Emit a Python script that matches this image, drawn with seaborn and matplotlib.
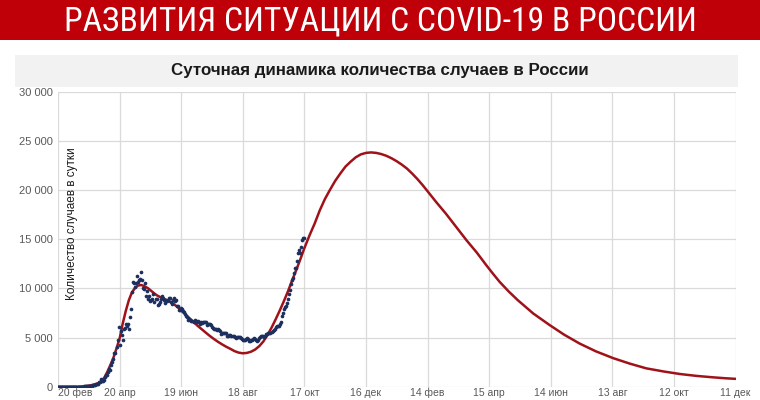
import matplotlib
matplotlib.use("Agg")
import matplotlib.pyplot as plt
import seaborn as sns
import pandas as pd
from matplotlib.patches import Rectangle
from matplotlib.ticker import FuncFormatter, FixedLocator
from matplotlib import font_manager

# ---------------- data ----------------
title_text = "РАЗВИТИЯ СИТУАЦИИ С COVID-19 В РОССИИ"
subtitle_text = "Суточная динамика количества случаев в России"
y_label = "Количество случаев в сутки"

# day index 0 = 20 фев 2020, one tick every 60 days
x_tick_days = [0, 60, 120, 180, 240, 300, 360, 420, 480, 540, 600, 660]
x_tick_labels = ["20 фев", "20 апр", "19 июн", "18 авг", "17 окт", "16 дек",
                 "14 фев", "15 апр", "14 июн", "13 авг", "12 окт", "11 дек"]
y_ticks = [0, 5000, 10000, 15000, 20000, 25000, 30000]

# observed daily cases (dots), one per day from 20 фев
cases_feb = [0, 0, 0, 0, 0, 0, 0, 0, 0, 0]
cases_mar = [0, 1, 0, 0, 1, 6, 1, 2, 0, 3, 8, 6, 11, 14, 4, 30, 21, 33, 52, 54,
             53, 61, 71, 57, 163, 182, 196, 228, 270, 302, 501]
cases_apr = [440, 771, 601, 582, 658, 954, 1154, 1175, 1459, 1786, 1667, 2186,
             2558, 2774, 3388, 3448, 4070, 4785, 6060, 4268, 5642, 5236, 4774,
             5849, 5966, 6361, 6198, 6411, 5841, 7099]
cases_may = [7933, 9623, 10633, 10581, 10102, 10559, 11231, 10699, 10817, 11012,
             11656, 10899, 10028, 9974, 10598, 9200, 9709, 8926, 9263, 8764, 8849,
             8894, 9434, 8599, 8946, 8915, 8338, 8371, 8572, 8952, 9268]
cases_jun = [9035, 8863, 8536, 8831, 8726, 8855, 8984, 8985, 8595, 8404, 8779,
             8987, 8706, 8835, 8246, 8248, 7843, 7790, 7972, 7889, 7728, 7600,
             7425, 7176, 7113, 6800, 6852, 6791, 6719, 6693]
cases_jul = [6556, 6760, 6718, 6632, 6736, 6611, 6368, 6562, 6509, 6635, 6611,
             6615, 6537, 6248, 6422, 6428, 6406, 6234, 6109, 5940, 5842, 5862,
             5848, 5811, 5871, 5765, 5635, 5395, 5475, 5509, 5482]
cases_aug = [5462, 5427, 5159, 5204, 5267, 5241, 5212, 5189, 5118, 5102, 4945,
             5102, 5057, 5065, 5061, 4969, 4839, 4718, 4748, 4767, 4870, 4921,
             4852, 4696, 4676, 4744, 4711, 4829, 4980, 4897, 4729]
cases_sep = [4676, 4729, 4952, 5110, 5205, 5195, 5185, 5099, 5172, 5363, 5406,
             5488, 5449, 5509, 5529, 5670, 5762, 5905, 6065, 6148, 6196, 6215,
             6431, 6595, 7212, 7523, 7867, 8135, 8232, 8481]
cases_oct = [8945, 9412, 9859, 10499, 10888, 11115, 11615, 12126, 12126, 12846,
             13634, 13868, 13592, 14231, 14922, 15150, 15099]

# model curve
model_days = [0, 10, 20, 26, 30, 33, 36, 39, 41, 43, 45, 48, 51, 54, 57, 60, 63,
              66, 69, 72, 75, 78, 81, 84, 88, 92, 96, 100, 104, 108, 112, 116,
              120, 124, 128, 132, 136, 140, 144, 148, 152, 156, 160, 164, 168,
              172, 176, 180, 184, 188, 192, 196, 200, 204, 208, 212, 216, 220,
              224, 228, 232, 236, 240, 245, 250, 255, 260, 265, 270, 275, 280,
              285, 290, 295, 300, 305, 310, 315, 320, 325, 330, 335, 340, 345,
              350, 355, 360, 368, 378, 388, 398, 408, 417, 423, 430, 439, 448,
              463, 479, 493, 508, 524, 541, 557, 573, 590, 606, 622, 638, 650,
              660]
model_vals = [0, 0, 10, 40, 100, 170, 250, 350, 450, 650, 900, 1500, 2200,
              2950, 3900, 4900, 6400, 7700, 8800, 9600, 10050, 10300, 10350,
              10250, 10000, 9650, 9320, 9100, 8900, 8700, 8470, 8150, 7750,
              7370, 6980, 6590, 6200, 5850, 5500, 5160, 4850, 4560, 4300, 4060,
              3850, 3620, 3470, 3400, 3440, 3560, 3780, 4120, 4600, 5250, 6000,
              6850, 7750, 8700, 9700, 10800, 11850, 12950, 14100, 15400, 16600,
              17950, 19100, 20050, 20950, 21700, 22400, 22900, 23350, 23650,
              23800, 23850, 23800, 23680, 23500, 23250, 22950, 22600, 22200,
              21700, 21150, 20550, 19900, 18850, 17600, 16250, 14900, 13650,
              12400, 11600, 10700, 9700, 8800, 7450, 6270, 5300, 4400, 3600,
              2900, 2350, 1870, 1550, 1290, 1100, 955, 860, 800]

cases = (cases_feb + cases_mar + cases_apr + cases_may + cases_jun + cases_jul
         + cases_aug + cases_sep + cases_oct)
obs = pd.DataFrame({"day": list(range(len(cases))), "cases": cases})
model = pd.DataFrame({"day": model_days, "cases": model_vals})

# ---------------- style ----------------
sns.set_theme(style="white")
plt.rcParams['font.family'] = ['Liberation Sans', 'DejaVu Sans']

avail = {f.name for f in font_manager.fontManager.ttflist}
narrow = next((n for n in ['Liberation Sans Narrow', 'Roboto Condensed',
                           'Open Sans Condensed'] if n in avail), 'Liberation Sans')

W, H = 760, 400
fig = plt.figure(figsize=(W / 100, H / 100), dpi=100)
fig.patch.set_facecolor("white")

# red banner
fig.patches.append(Rectangle((0, 1 - 40 / H), 1, 40 / H, transform=fig.transFigure,
                             facecolor="#c00008", edgecolor="none", zorder=0))
# grey subtitle band
fig.patches.append(Rectangle((15 / W, 1 - 87 / H), (738 - 15) / W, 32 / H,
                             transform=fig.transFigure, facecolor="#f2f2f2",
                             edgecolor="none", zorder=0))

t1 = fig.text(380 / W, 1 - 21 / H, title_text, color="white", ha="center",
              va="center", fontsize=24, family=[narrow, 'Liberation Sans'])
t2 = fig.text(380 / W, 1 - 71 / H, subtitle_text, color="#1a1a1a", ha="center",
              va="center", fontsize=12, fontweight="bold",
              family=['Liberation Sans', 'DejaVu Sans'])

renderer = fig.canvas.get_renderer()
for t, target, maxsize in [(t1, 634, 27), (t2, 417, 13)]:
    w = t.get_window_extent(renderer).width
    t.set_fontsize(min(maxsize, t.get_fontsize() * target / w))

# axes
ax = fig.add_axes([58 / W, 1 - 386.7 / H, (735.5 - 58) / W, (386.7 - 92) / H])
ax.set_facecolor("white")

sns.lineplot(data=model, x="day", y="cases", ax=ax, color="#a0121a",
             linewidth=1.8, zorder=3)
sns.scatterplot(data=obs, x="day", y="cases", ax=ax, color="#1c2f5e", s=7,
                linewidth=0, edgecolor=None, zorder=4)

ax.set_xlim(0, 660)
ax.set_ylim(0, 30000)
ax.xaxis.set_major_locator(FixedLocator(x_tick_days))
ax.set_xticklabels(x_tick_labels)
ax.yaxis.set_major_locator(FixedLocator(y_ticks))
ax.yaxis.set_major_formatter(FuncFormatter(lambda v, p: f"{int(v):,}".replace(",", " ")))
ax.tick_params(axis="both", length=0, colors="#595959", labelsize=8)
ax.tick_params(axis="x", pad=6.4, labelsize=7.5)
ax.tick_params(axis="y", pad=4)
ax.grid(True, color="#dadada", linewidth=0.9)
ax.set_axisbelow(True)
for s in ax.spines.values():
    s.set_visible(False)
ax.set_xlabel("")
ax.set_ylabel("")
xlabels = ax.get_xticklabels()
for lab in xlabels:
    lab.set_verticalalignment("baseline")
xlabels[0].set_horizontalalignment("left")

ax.text((72 - 58) / (735.5 - 58), 0.552, y_label, transform=ax.transAxes,
        rotation=90, ha="center", va="center", fontsize=8.5, color="#1a1a1a")

fig.savefig("out.png", dpi=100)
